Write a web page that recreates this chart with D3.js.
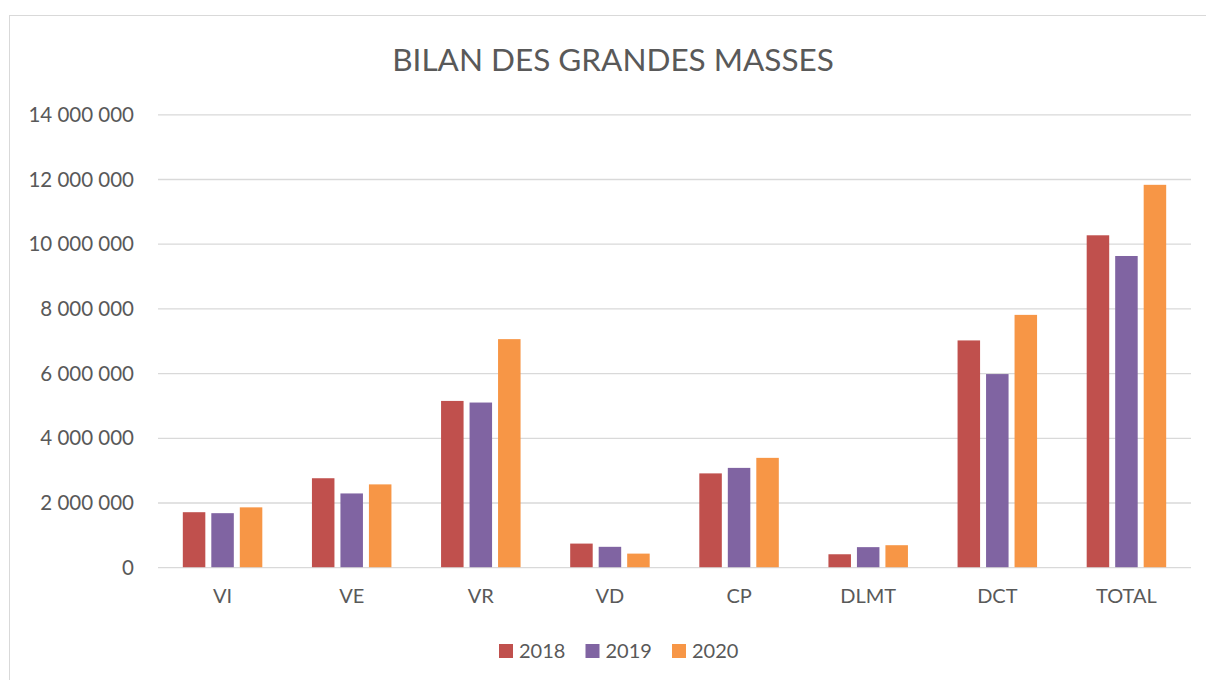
<!DOCTYPE html>
<html>
<head>
<meta charset="utf-8">
<script src="https://cdn.jsdelivr.net/npm/d3@7"></script>
<style>
  html, body { margin: 0; padding: 0; background: #fff; }
  svg { display: block; }
  text { font-family: Lato, "Open Sans", sans-serif; fill: #595959; }
</style>
</head>
<body>
<svg id="chart" width="1206" height="680"></svg>
<script>
const categories = ["VI", "VE", "VR", "VD", "CP", "DLMT", "DCT", "TOTAL"];
const seriesNames = ["2018", "2019", "2020"];
const values2018 = [1700000, 2750000, 5140000, 730000, 2900000, 400000, 7010000, 10260000];
const values2019 = [1670000, 2280000, 5090000, 630000, 3070000, 620000, 5970000, 9620000];
const values2020 = [1850000, 2560000, 7050000, 420000, 3380000, 680000, 7800000, 11820000];
const yTicks = [0, 2000000, 4000000, 6000000, 8000000, 10000000, 12000000, 14000000];
const colors = ["#C0504D", "#8064A2", "#F79646"];
const title = "BILAN DES GRANDES MASSES";

const seriesValues = [values2018, values2019, values2020];

const svg = d3.select("#chart");
const W = 1206, H = 680;
const plot = { left: 158, right: 1191, top: 114.3, bottom: 567.2 };

// outer frame
svg.append("rect")
  .attr("x", 9.5).attr("y", 15.5)
  .attr("width", W).attr("height", H)
  .attr("fill", "none").attr("stroke", "#d9d9d9").attr("stroke-width", 1);

// title
svg.append("text")
  .attr("x", 613).attr("y", 70.5)
  .attr("text-anchor", "middle")
  .style("font-size", "31.5px")
  .text(title);

const x0 = d3.scaleBand().domain(categories).range([plot.left, plot.right]).paddingInner(0).paddingOuter(0);
const groupW = 79.5;
const bw0 = x0.bandwidth();
const x1 = d3.scaleBand().domain(seriesNames)
  .range([(bw0 - groupW) / 2, (bw0 + groupW) / 2])
  .paddingInner(0.21).paddingOuter(0);
const y = d3.scaleLinear().domain([0, 14000000]).range([plot.bottom, plot.top]);

const fmt = v => d3.format(",")(v).replace(/,/g, " ");

// gridlines
const yAxis = d3.axisLeft(y).tickValues(yTicks).tickSize(-(plot.right - plot.left)).tickFormat(fmt).tickPadding(24);
const gy = svg.append("g").attr("transform", `translate(${plot.left},0)`).call(yAxis);
gy.select(".domain").remove();
gy.selectAll(".tick line").attr("stroke", "#d9d9d9").attr("stroke-width", 1.3);
gy.selectAll(".tick text").style("font-size", "20.5px").attr("fill", "#595959").attr("dy", "0.35em");

// bars
const rows = categories.map((c, i) => ({ cat: c, vals: seriesNames.map((s, j) => ({ s, j, v: seriesValues[j][i] })) }));
const groups = svg.append("g").selectAll("g").data(rows).join("g")
  .attr("transform", d => `translate(${x0(d.cat)},0)`);
groups.selectAll("rect").data(d => d.vals).join("rect")
  .attr("x", d => x1(d.s))
  .attr("width", x1.bandwidth())
  .attr("y", d => y(d.v))
  .attr("height", d => y(0) - y(d.v))
  .attr("fill", d => colors[d.j]);

// category axis
const xAxis = d3.axisBottom(x0).tickSize(0).tickPadding(22);
const gx = svg.append("g").attr("transform", `translate(0,${plot.bottom})`).call(xAxis);
gx.select(".domain").remove();
gx.selectAll(".tick text").style("font-size", "20px").attr("fill", "#595959");

// legend
const legendX = [499, 585.5, 672];
const lg = svg.append("g").selectAll("g").data(seriesNames).join("g")
  .attr("transform", (d, i) => `translate(${legendX[i]},644)`);
lg.append("rect").attr("width", 14).attr("height", 14).attr("fill", (d, i) => colors[i]);
lg.append("text").attr("x", 20).attr("y", 14).style("font-size", "20px").text(d => d);
</script>
</body>
</html>
